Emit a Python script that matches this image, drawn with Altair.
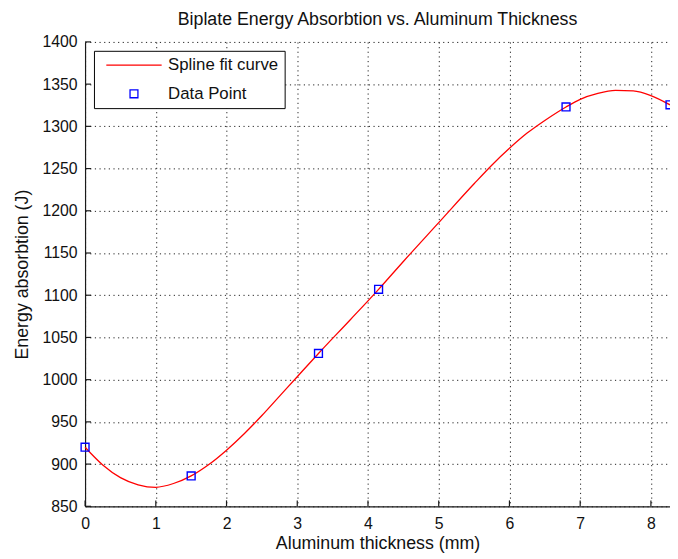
import altair as alt
import pandas as pd

# Spline fit curve
curve_x = [0, 0.25, 0.5, 0.75, 1.0, 1.25, 1.5, 1.75, 2.0, 2.25, 2.5, 2.75, 3.0, 3.3,
           3.75, 4.15, 4.5, 5.0, 5.5, 5.75, 6.0, 6.25, 6.5, 6.8, 7.0, 7.25, 7.5, 7.75,
           8.0, 8.27]
curve_y = [920, 899, 884, 875.5, 872.5, 877, 886, 899.5, 916.5, 936, 957.5, 980.5,
           1003.5, 1031, 1071, 1107, 1140, 1186, 1232, 1254, 1274, 1292, 1307, 1323,
           1332, 1339, 1342.5, 1342, 1336.5, 1325.5]

# Data points
pts_x = [0, 1.5, 3.3, 4.15, 6.8, 8.27]
pts_y = [920, 886, 1031, 1107, 1323, 1325.5]

x_ticks = [0, 1, 2, 3, 4, 5, 6, 7, 8]
y_ticks = [850, 900, 950, 1000, 1050, 1100, 1150, 1200, 1250, 1300, 1350, 1400]

series = ["Spline fit curve", "Data Point"]

curve_df = pd.DataFrame({"x": curve_x, "y": curve_y, "s": series[0]})
pts_df = pd.DataFrame({"x": pts_x, "y": pts_y, "s": series[1]})
xt_df = pd.DataFrame({"v": x_ticks})
yt_df = pd.DataFrame({"v": y_ticks})

FONT = "Liberation Sans"

xs = alt.Scale(domain=[0, 8.27], nice=False, zero=False)
ys = alt.Scale(domain=[850, 1400], nice=False, zero=False)

grid_style = dict(grid=True, gridColor="#222222", gridDash=[1.2, 3.5], gridWidth=1,
                  gridOpacity=1, tickSize=0, domainColor="#1a1a1a", domainWidth=1.2,
                  labelFont=FONT, labelColor="#111111", titleFont=FONT,
                  titleColor="#111111", titleFontWeight="normal", format="d",
                  labelFlush=False, labelOverlap=False)

xax = alt.Axis(values=x_ticks, labelFontSize=16, labelPadding=9, titleFontSize=18,
               titlePadding=4, title="Aluminum thickness (mm)", **grid_style)
yax = alt.Axis(values=y_ticks, labelFontSize=16, labelPadding=8, titleFontSize=18,
               titlePadding=11, title="Energy absorbtion (J)", **grid_style)

legend_style = dict(title=None, orient="none", legendX=9, legendY=9,
                    strokeColor="#000000", fillColor="#ffffff",
                    padding=6, rowPadding=11, symbolSize=196,
                    symbolOffset=26, labelOffset=26,
                    symbolStrokeWidth=1.3, labelFont=FONT,
                    labelFontSize=17, labelColor="#111111", labelLimit=300)

line = alt.Chart(curve_df).mark_line(color="#ff0000", strokeWidth=1.3,
                                     interpolate="monotone").encode(
    x=alt.X("x:Q", scale=xs, axis=xax),
    y=alt.Y("y:Q", scale=ys, axis=yax),
)

points = alt.Chart(pts_df).mark_point(filled=False, size=196, strokeWidth=1.4,
                                      opacity=1).encode(
    x=alt.X("x:Q", scale=xs),
    y=alt.Y("y:Q", scale=ys),
    color=alt.Color("s:N", scale=alt.Scale(domain=series, range=["#ff0000", "#0000ff"]),
                    legend=alt.Legend(**legend_style)),
    shape=alt.Shape("s:N", scale=alt.Scale(domain=series,
                                           range=["M-4,0H4", "M-0.57,-0.57H0.57V0.57H-0.57Z"]),
                    legend=alt.Legend(**legend_style)),
)

xtick_marks = alt.Chart(xt_df).mark_rule(color="#1a1a1a", strokeWidth=1.2).encode(
    x=alt.X("v:Q", scale=xs), y=alt.value(470), y2=alt.value(464))
ytick_marks = alt.Chart(yt_df).mark_rule(color="#1a1a1a", strokeWidth=1.2).encode(
    y=alt.Y("v:Q", scale=ys), x=alt.value(0), x2=alt.value(6))

chart = alt.layer(xtick_marks, ytick_marks, line, points).properties(
    width=592, height=470,
    title=alt.TitleParams("Biplate Energy Absorbtion vs. Aluminum Thickness",
                          font=FONT, fontSize=18, fontWeight="normal", color="#111111",
                          anchor="middle", frame="group", baseline="alphabetic", offset=-9),
    autosize=alt.AutoSizeParams(type="none"),
    padding={"left": 78, "top": 31, "right": 0, "bottom": 50},
).configure_view(stroke=None)

chart.save("out.html", embed_options={"renderer": "svg", "actions": False})
